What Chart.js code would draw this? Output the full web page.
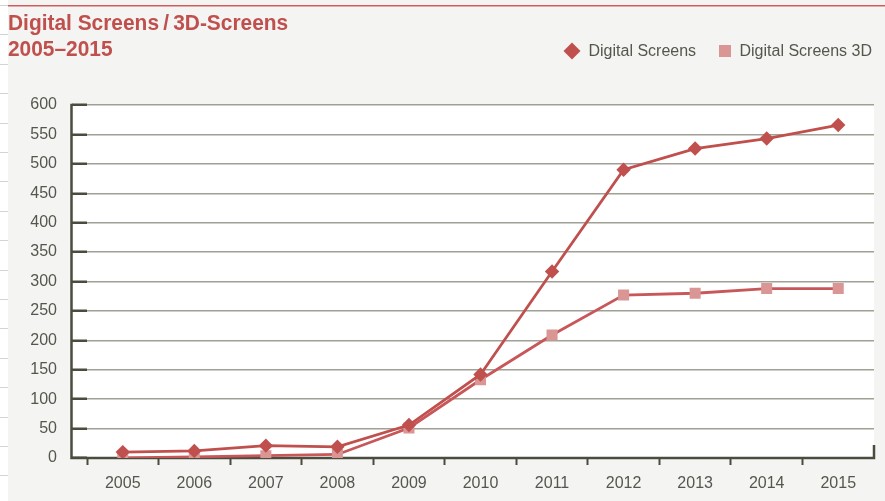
<!DOCTYPE html>
<html><head><meta charset="utf-8">
<script src="https://cdn.jsdelivr.net/npm/chart.js@4.4.1/dist/chart.umd.min.js"></script>
<style>html,body{margin:0;padding:0;background:#f4f4f2;}#wrap{width:885px;height:501px;position:relative;}</style>
</head><body><div id="wrap"><canvas id="c" width="885" height="501"></canvas></div>
<script>
const categories = ['2005','2006','2007','2008','2009','2010','2011','2012','2013','2014','2015'];
const digitalScreens = [10, 12, 21, 19, 56, 142, 317, 490, 526, 543, 566];
const digitalScreens3D = [0, 2, 4, 6, 51, 133, 209, 277, 280, 288, 288];
const seriesLabels = ['Digital Screens', 'Digital Screens 3D'];
const titleLines = ['Digital Screens\u2009/\u20093D-Screens', '2005\u20132015'];
const yMin = 0, yMax = 600, yStep = 50;

const RED = '#c0504d', PINK = '#d99694', DARK = '#4b4b3e', GRID = '#a0a096', TXT = '#56564f';
const Y_TICK_LEN = 15;

const deco = {
  id: 'deco',
  beforeDraw(chart) {
    const ctx = chart.ctx, a = chart.chartArea;
    ctx.save();
    ctx.fillStyle = '#f4f4f2';
    ctx.fillRect(0, 0, chart.width, chart.height);
    // left page strip
    ctx.fillStyle = '#ffffff';
    ctx.fillRect(0, 0, 8, chart.height);
    ctx.strokeStyle = '#d4d4d4';
    ctx.lineWidth = 1;
    for (let y = 5; y < chart.height; y += 29.4) {
      ctx.beginPath(); ctx.moveTo(0, Math.round(y) + 0.5); ctx.lineTo(8, Math.round(y) + 0.5); ctx.stroke();
    }
    // top red rule
    ctx.fillStyle = '#d25c5c';
    ctx.fillRect(8, 5, chart.width - 8, 1.5);
    // white plot area
    ctx.fillStyle = '#ffffff';
    ctx.fillRect(a.left - Y_TICK_LEN - 1, a.top, a.right - a.left + Y_TICK_LEN + 1, a.bottom - a.top);
    ctx.restore();
  },
  beforeDatasetsDraw(chart) {
    const ctx = chart.ctx, a = chart.chartArea;
    const xAxisX = a.left - Y_TICK_LEN - 0.5;
    ctx.save();
    ctx.strokeStyle = DARK;
    ctx.lineWidth = 2.5;
    ctx.lineCap = 'butt';
    ctx.beginPath();
    ctx.moveTo(xAxisX, a.top - 1.2);
    ctx.lineTo(xAxisX, a.bottom);
    ctx.lineTo(a.right, a.bottom);
    ctx.lineTo(a.right, a.bottom - 13);
    ctx.stroke();
    ctx.restore();
  },
  afterDraw(chart) {
    const ctx = chart.ctx;
    ctx.save();
    // title
    ctx.fillStyle = RED;
    ctx.font = 'bold 22px "Liberation Sans", Arial, sans-serif';
    ctx.textBaseline = 'alphabetic';
    ctx.textAlign = 'left';
    const bases = [29.5, 56];
    titleLines.forEach((t, i) => {
      ctx.save();
      ctx.translate(8, bases[i]);
      ctx.scale(0.95, 1);
      ctx.fillText(t, 0, 0);
      ctx.restore();
    });
    // legend
    ctx.font = '16px "Liberation Sans", Arial, sans-serif';
    ctx.textBaseline = 'middle';
    const ds = chart.data.datasets;
    ctx.fillStyle = ds[0].pointBackgroundColor;
    ctx.beginPath();
    ctx.moveTo(572, 42.5); ctx.lineTo(580.5, 51); ctx.lineTo(572, 59.5); ctx.lineTo(563.5, 51); ctx.closePath();
    ctx.fill();
    ctx.fillStyle = TXT;
    ctx.fillText(ds[0].label, 588.5, 51.5);
    ctx.fillStyle = ds[1].pointBackgroundColor;
    ctx.fillRect(719, 45, 12, 12);
    ctx.fillStyle = TXT;
    ctx.fillText(ds[1].label, 739.5, 51.5);
    ctx.restore();
  }
};

new Chart(document.getElementById('c'), {
  type: 'line',
  data: {
    labels: categories,
    datasets: [
      {
        label: seriesLabels[0], data: digitalScreens,
        borderColor: RED, borderWidth: 2.8,
        pointStyle: 'rectRot', pointRadius: 7.2, pointBorderWidth: 0,
        pointBackgroundColor: RED, pointBorderColor: RED, tension: 0
      },
      {
        label: seriesLabels[1], data: digitalScreens3D,
        borderColor: '#c8575a', borderWidth: 2.8,
        pointStyle: 'rect', pointRadius: 7.8, pointBorderWidth: 0,
        pointBackgroundColor: PINK, pointBorderColor: PINK, tension: 0
      }
    ]
  },
  options: {
    responsive: false,
    animation: false,
    events: [],
    layout: { padding: { top: 105, right: 11, left: 0, bottom: 0 } },
    plugins: { legend: { display: false }, title: { display: false }, tooltip: { enabled: false } },
    scales: {
      x: {
        offset: true,
        grid: {
          offset: true, drawOnChartArea: false, drawTicks: true, tickLength: 7,
          tickWidth: 2,
          tickColor: (c) => c.type === 'tick' ? DARK : 'rgba(0,0,0,0)'
        },
        border: { display: false },
        ticks: { color: TXT, font: { family: '"Liberation Sans", Arial, sans-serif', size: 16 }, padding: 9, maxRotation: 0, autoSkip: false },
        afterFit: (s) => { s.height = 43; }
      },
      y: {
        min: yMin, max: yMax,
        grid: { color: GRID, lineWidth: 1.5, drawTicks: true, tickLength: Y_TICK_LEN, tickColor: DARK, tickWidth: 2.5 },
        border: { display: false },
        ticks: { stepSize: yStep, color: TXT, font: { family: '"Liberation Sans", Arial, sans-serif', size: 16 }, padding: 15 },
        afterFit: (s) => { s.width = 87; }
      }
    }
  },
  plugins: [deco]
});
</script></body></html>
